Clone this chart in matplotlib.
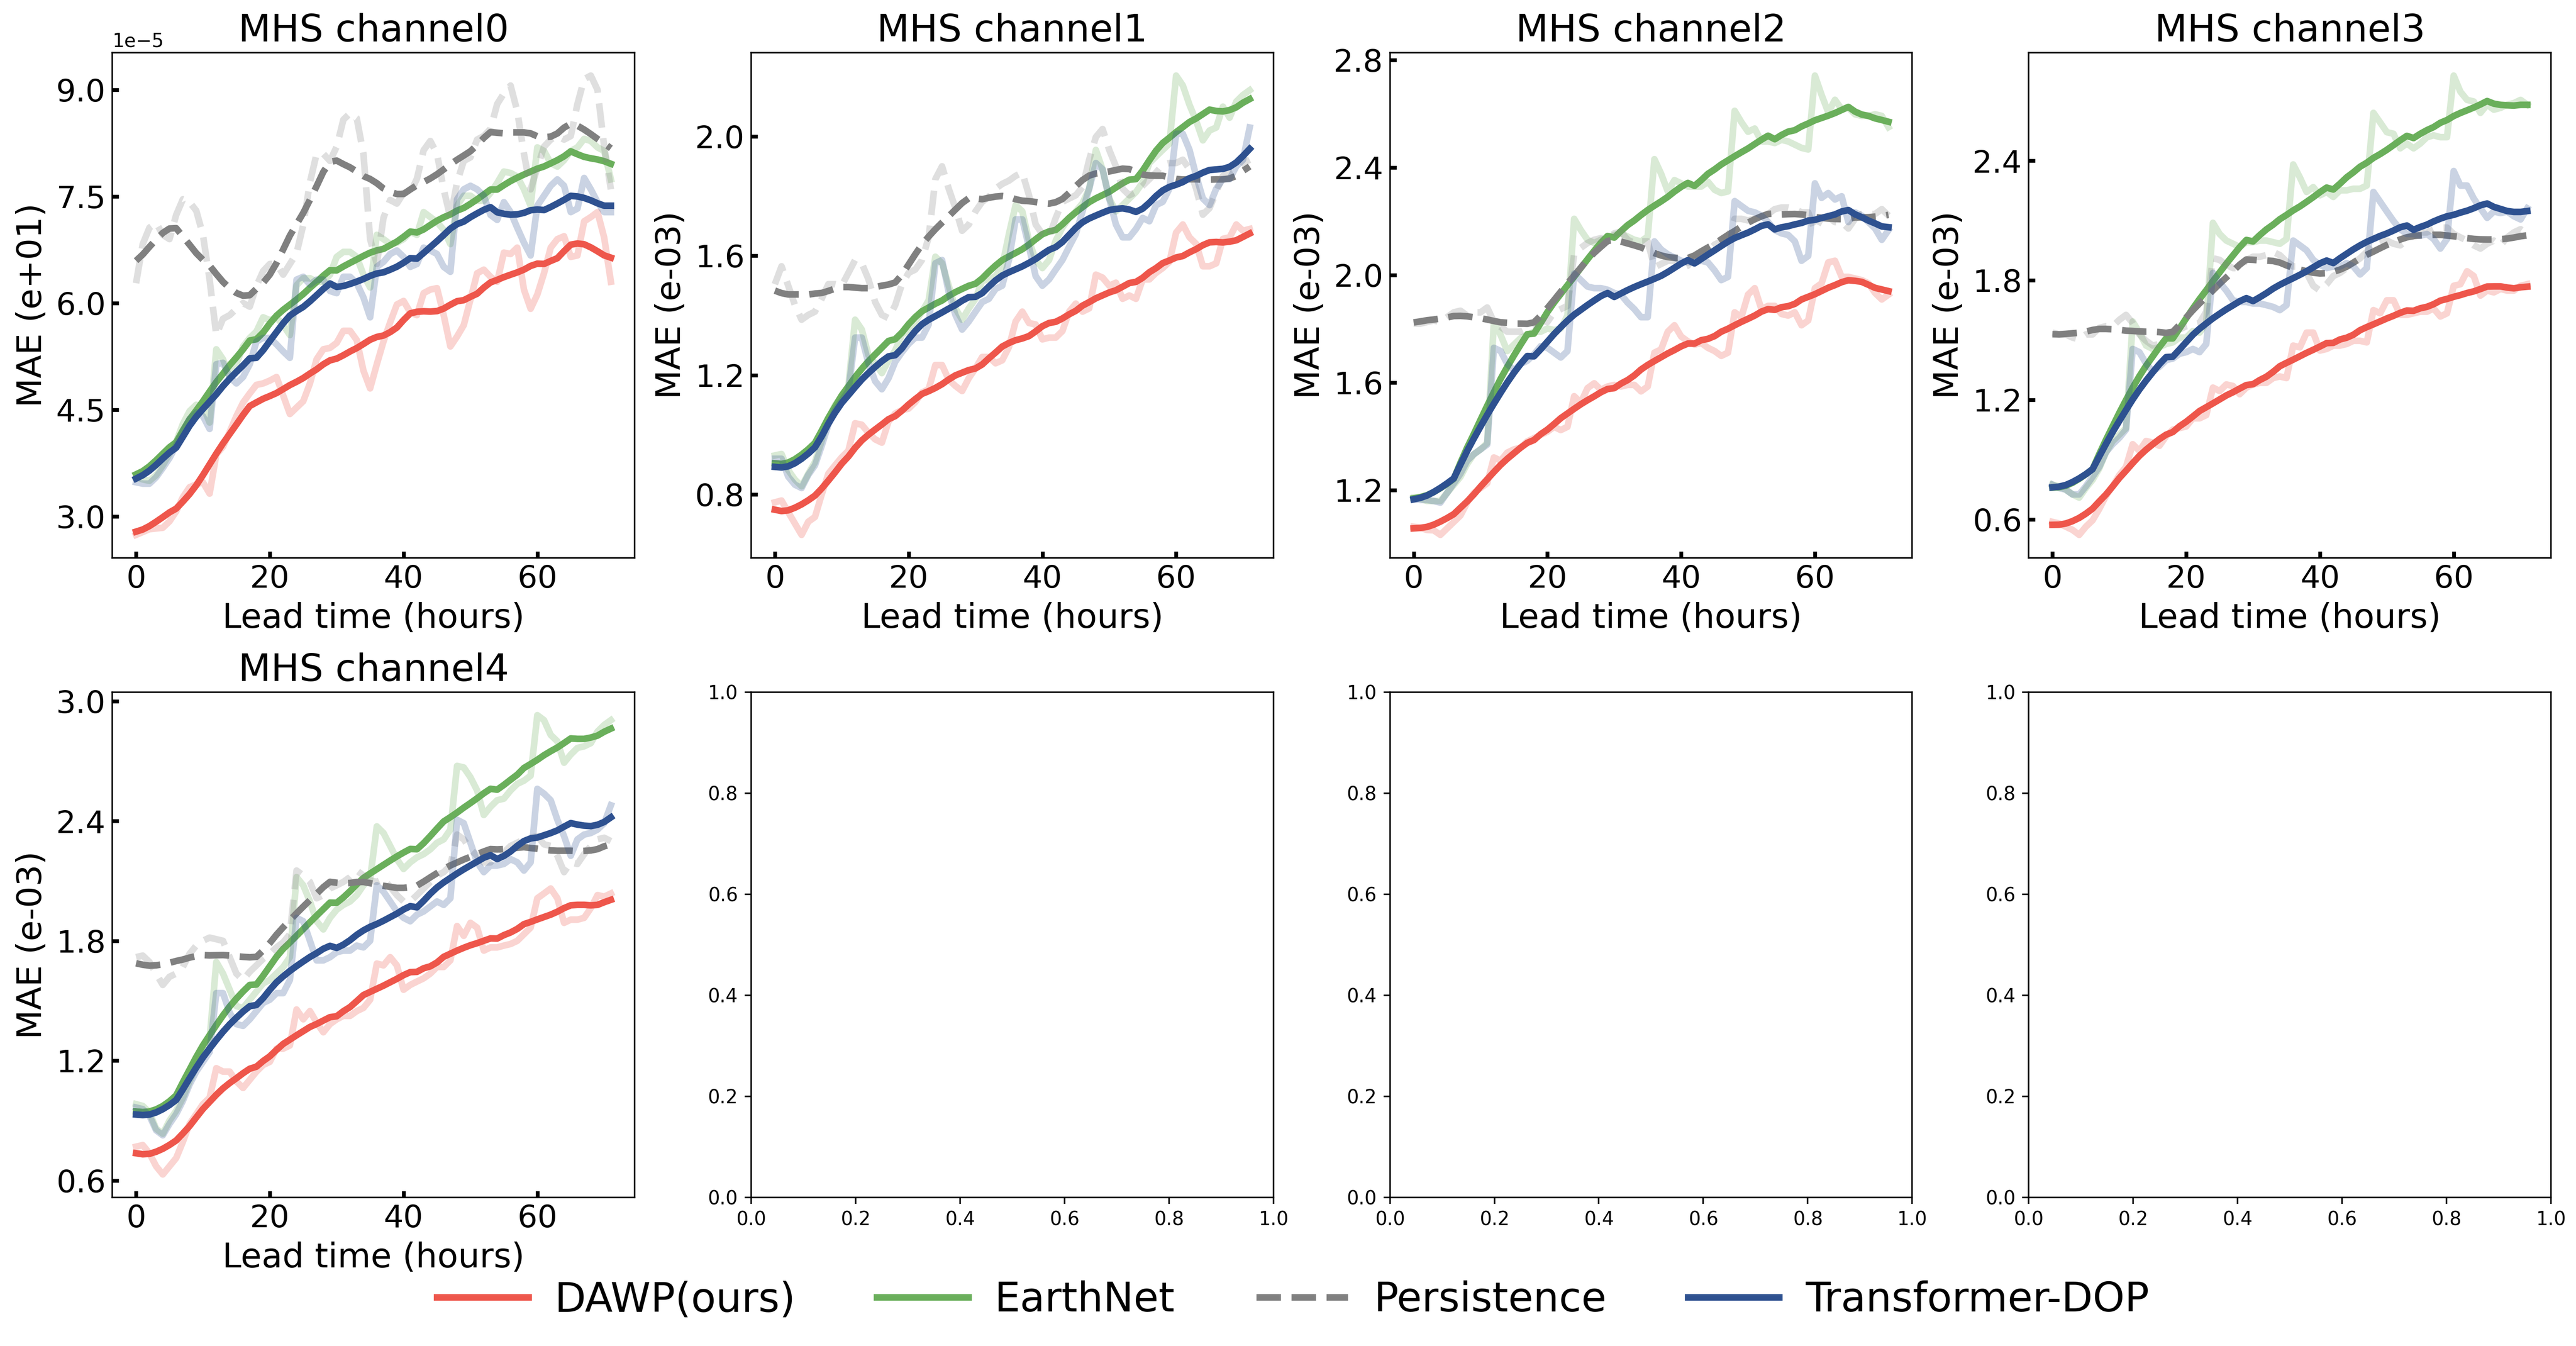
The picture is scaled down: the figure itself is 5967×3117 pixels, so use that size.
import numpy as np
import matplotlib
matplotlib.use("Agg")
from matplotlib import pyplot as plt

hours = np.arange(72)

models = ["DAWP(ours)", "EarthNet", "Persistence", "Transformer-DOP"]
colors = ["#EE564B", "#6AAF5B", "#808080", "#2E5190"]
styles = ["-", "-", "--", "-"]

titles = ["MHS channel0", "MHS channel1", "MHS channel2", "MHS channel3", "MHS channel4"]
ylabels = ["MAE (e+01)", "MAE (e-03)", "MAE (e-03)", "MAE (e-03)", "MAE (e-03)"]
scales = [1e-5, 1, 1, 1, 1]
yticks = [[3.0, 4.5, 6.0, 7.5, 9.0],
          [0.8, 1.2, 1.6, 2.0],
          [1.2, 1.6, 2.0, 2.4, 2.8],
          [0.6, 1.2, 1.8, 2.4],
          [0.6, 1.2, 1.8, 2.4, 3.0]]

# channel 0 (values in units of 1e-5)
ch0_dawp = [2.74, 2.78, 2.82, 2.83, 2.84, 2.93, 3.07, 3.27, 3.41, 3.45, 3.48, 3.32,
            3.87, 3.98, 4.19, 4.41, 4.60, 4.73, 4.85, 4.87, 4.91, 4.96, 4.70, 4.44,
            4.53, 4.62, 4.87, 5.21, 5.35, 5.37, 5.44, 5.61, 5.61, 5.48, 5.05, 4.80,
            5.14, 5.46, 5.73, 5.98, 6.03, 5.87, 5.83, 6.14, 6.19, 6.21, 5.83, 5.39,
            5.53, 5.69, 6.05, 6.42, 6.47, 6.37, 6.30, 6.71, 6.69, 6.78, 6.19, 5.92,
            6.12, 6.42, 6.78, 6.90, 6.94, 6.65, 6.67, 7.15, 7.21, 7.28, 6.92, 6.30]
ch0_earthnet = [3.55, 3.52, 3.50, 3.58, 3.72, 3.88, 4.05, 4.30, 4.48, 4.57, 4.55, 4.32,
                5.35, 5.21, 4.96, 5.14, 5.39, 5.51, 5.60, 5.80, 5.76, 5.80, 5.69, 5.55,
                6.25, 6.35, 6.35, 6.30, 6.30, 6.40, 6.65, 6.72, 6.72, 6.65, 6.40, 6.22,
                6.96, 6.90, 6.83, 6.85, 6.90, 7.00, 6.96, 7.28, 7.21, 7.14, 7.03, 6.83,
                7.37, 7.51, 7.51, 7.44, 7.44, 7.55, 7.69, 7.85, 7.83, 7.78, 7.60, 7.37,
                8.19, 8.14, 7.97, 7.92, 8.01, 8.14, 8.19, 8.31, 8.28, 8.19, 8.14, 7.74]
ch0_persistence = [6.28, 6.83, 7.06, 7.13, 6.96, 6.90, 7.24, 7.46, 7.42, 7.30, 6.96, 6.33,
                   5.55, 5.78, 5.83, 5.92, 6.00, 5.95, 6.24, 6.45, 6.55, 6.55, 6.40, 6.55,
                   6.70, 7.10, 7.70, 8.10, 8.10, 8.00, 8.20, 8.58, 8.67, 8.60, 8.10, 6.90,
                   6.55, 7.20, 7.45, 7.40, 7.55, 7.55, 7.75, 8.15, 8.28, 8.10, 7.60, 7.20,
                   7.70, 8.00, 8.05, 8.30, 8.35, 8.45, 8.80, 8.95, 9.06, 8.70, 8.10, 7.60,
                   7.90, 8.20, 8.30, 8.35, 8.30, 8.35, 8.80, 9.15, 9.20, 9.00, 8.20, 7.60]
ch0_transformer = [3.48, 3.46, 3.46, 3.55, 3.68, 3.82, 4.00, 4.19, 4.37, 4.46, 4.41, 4.23,
                   5.14, 5.16, 4.96, 4.87, 4.96, 5.14, 5.46, 5.51, 5.51, 5.42, 5.32, 5.23,
                   6.33, 6.37, 6.26, 6.33, 6.33, 6.17, 6.14, 6.37, 6.37, 6.28, 6.08, 5.80,
                   6.51, 6.58, 6.69, 6.74, 6.65, 6.51, 6.55, 6.78, 6.74, 6.69, 6.51, 6.44,
                   7.46, 7.60, 7.65, 7.60, 7.51, 7.24, 7.17, 7.42, 7.28, 7.06, 6.85, 6.67,
                   7.37, 7.51, 7.65, 7.74, 7.65, 7.28, 7.33, 7.76, 7.60, 7.42, 7.28, 7.28]

# channel 1
ch1_dawp = [0.774, 0.780, 0.741, 0.703, 0.665, 0.709, 0.725, 0.800, 0.870, 0.898, 0.925, 0.947,
            1.039, 1.034, 1.007, 0.985, 0.974, 1.045, 1.072, 1.083, 1.088, 1.110, 1.142, 1.153,
            1.234, 1.234, 1.185, 1.164, 1.147, 1.190, 1.223, 1.261, 1.261, 1.240, 1.250, 1.294,
            1.380, 1.413, 1.375, 1.370, 1.320, 1.326, 1.326, 1.348, 1.413, 1.440, 1.413, 1.424,
            1.537, 1.527, 1.500, 1.510, 1.456, 1.467, 1.456, 1.521, 1.521, 1.543, 1.559, 1.580,
            1.678, 1.705, 1.662, 1.640, 1.565, 1.565, 1.575, 1.657, 1.662, 1.705, 1.684, 1.690]
ch1_earthnet = [0.931, 0.936, 0.882, 0.850, 0.828, 0.870, 0.909, 0.980, 1.055, 1.100, 1.131, 1.164,
                1.386, 1.353, 1.267, 1.240, 1.207, 1.250, 1.283, 1.337, 1.348, 1.380, 1.413, 1.451,
                1.597, 1.575, 1.500, 1.424, 1.386, 1.424, 1.456, 1.516, 1.521, 1.532, 1.565, 1.673,
                1.770, 1.749, 1.651, 1.586, 1.559, 1.586, 1.651, 1.695, 1.727, 1.749, 1.776, 1.825,
                1.955, 1.890, 1.792, 1.749, 1.770, 1.792, 1.814, 1.846, 1.911, 1.933, 1.955, 1.976,
                2.204, 2.171, 2.106, 2.052, 1.987, 2.020, 2.030, 2.100, 2.063, 2.117, 2.139, 2.155]
ch1_persistence = [1.505, 1.565, 1.500, 1.435, 1.386, 1.402, 1.413, 1.456, 1.505, 1.505, 1.500, 1.543,
                   1.586, 1.575, 1.521, 1.445, 1.402, 1.391, 1.435, 1.505, 1.543, 1.554, 1.586, 1.662,
                   1.857, 1.900, 1.825, 1.760, 1.684, 1.705, 1.749, 1.781, 1.797, 1.825, 1.841, 1.852,
                   1.868, 1.879, 1.803, 1.705, 1.673, 1.662, 1.727, 1.781, 1.792, 1.803, 1.830, 1.922,
                   1.998, 2.025, 1.955, 1.900, 1.825, 1.803, 1.814, 1.835, 1.857, 1.879, 1.906, 1.911,
                   1.911, 1.922, 1.890, 1.825, 1.738, 1.760, 1.814, 1.868, 1.879, 1.890, 1.911, 1.922]
ch1_transformer = [0.920, 0.920, 0.860, 0.833, 0.822, 0.866, 0.898, 0.963, 1.034, 1.083, 1.115, 1.148,
                   1.326, 1.326, 1.240, 1.180, 1.153, 1.190, 1.245, 1.277, 1.305, 1.326, 1.326, 1.370,
                   1.575, 1.586, 1.478, 1.402, 1.353, 1.380, 1.413, 1.445, 1.456, 1.489, 1.500, 1.586,
                   1.722, 1.722, 1.630, 1.532, 1.500, 1.521, 1.554, 1.586, 1.630, 1.673, 1.749, 1.825,
                   1.911, 1.890, 1.792, 1.705, 1.662, 1.662, 1.690, 1.727, 1.716, 1.770, 1.781, 1.825,
                   2.009, 2.009, 1.955, 1.868, 1.792, 1.770, 1.825, 1.857, 1.857, 1.900, 1.922, 2.030]

# channel 2
ch2_dawp = [1.063, 1.060, 1.051, 1.050, 1.033, 1.057, 1.081, 1.105, 1.153, 1.189, 1.207, 1.225,
            1.321, 1.309, 1.339, 1.351, 1.357, 1.381, 1.393, 1.405, 1.417, 1.435, 1.423, 1.435,
            1.549, 1.525, 1.579, 1.597, 1.573, 1.585, 1.591, 1.585, 1.591, 1.591, 1.567, 1.585,
            1.711, 1.723, 1.789, 1.813, 1.771, 1.753, 1.741, 1.747, 1.729, 1.717, 1.699, 1.711,
            1.861, 1.843, 1.927, 1.951, 1.873, 1.885, 1.885, 1.855, 1.849, 1.861, 1.813, 1.831,
            1.951, 1.969, 2.047, 2.053, 1.993, 1.993, 1.987, 1.981, 1.969, 1.933, 1.909, 1.927]
ch2_earthnet = [1.171, 1.168, 1.159, 1.159, 1.159, 1.189, 1.219, 1.249, 1.297, 1.333, 1.351, 1.375,
                1.825, 1.777, 1.717, 1.741, 1.765, 1.777, 1.789, 1.789, 1.801, 1.795, 1.801, 1.849,
                2.209, 2.167, 2.131, 2.119, 2.131, 2.137, 2.149, 2.155, 2.143, 2.131, 2.125, 2.143,
                2.431, 2.377, 2.311, 2.353, 2.341, 2.329, 2.329, 2.329, 2.347, 2.317, 2.305, 2.311,
                2.611, 2.569, 2.533, 2.545, 2.497, 2.497, 2.491, 2.503, 2.497, 2.485, 2.473, 2.467,
                2.742, 2.670, 2.605, 2.652, 2.617, 2.622, 2.598, 2.592, 2.592, 2.598, 2.592, 2.550]
ch2_persistence = [1.819, 1.819, 1.825, 1.831, 1.825, 1.843, 1.861, 1.867, 1.849, 1.861, 1.861, 1.879,
                   1.825, 1.807, 1.789, 1.789, 1.789, 1.801, 1.813, 1.831, 1.825, 1.861, 1.873, 1.885,
                   2.077, 2.101, 2.119, 2.131, 2.137, 2.137, 2.155, 2.161, 2.131, 2.119, 2.125, 2.125,
                   2.029, 2.041, 2.053, 2.053, 2.023, 2.035, 2.065, 2.065, 2.089, 2.113, 2.125, 2.137,
                   2.209, 2.209, 2.203, 2.209, 2.215, 2.227, 2.245, 2.251, 2.251, 2.245, 2.233, 2.233,
                   2.167, 2.215, 2.215, 2.197, 2.197, 2.173, 2.209, 2.227, 2.227, 2.227, 2.245, 2.221]
ch2_transformer = [1.165, 1.163, 1.163, 1.159, 1.153, 1.189, 1.225, 1.261, 1.309, 1.333, 1.351, 1.369,
                   1.729, 1.717, 1.669, 1.645, 1.669, 1.681, 1.705, 1.735, 1.729, 1.711, 1.693, 1.717,
                   2.005, 1.981, 1.957, 1.951, 1.951, 1.945, 1.933, 1.927, 1.897, 1.873, 1.843, 1.843,
                   2.125, 2.095, 2.077, 2.065, 2.053, 2.047, 2.047, 2.053, 2.047, 2.017, 1.981, 1.993,
                   2.275, 2.257, 2.239, 2.233, 2.221, 2.197, 2.167, 2.155, 2.149, 2.125, 2.053, 2.071,
                   2.341, 2.287, 2.305, 2.281, 2.293, 2.197, 2.233, 2.221, 2.197, 2.173, 2.131, 2.167]

# channel 3
ch3_dawp = [0.587, 0.579, 0.563, 0.547, 0.522, 0.563, 0.595, 0.652, 0.717, 0.766, 0.822, 0.863,
            0.977, 0.944, 0.993, 0.985, 0.969, 1.017, 1.050, 1.058, 1.066, 1.107, 1.107, 1.123,
            1.261, 1.244, 1.277, 1.269, 1.228, 1.261, 1.277, 1.285, 1.285, 1.309, 1.317, 1.309,
            1.472, 1.463, 1.537, 1.537, 1.447, 1.455, 1.472, 1.472, 1.480, 1.496, 1.496, 1.488,
            1.650, 1.634, 1.699, 1.699, 1.626, 1.626, 1.634, 1.642, 1.642, 1.658, 1.618, 1.634,
            1.772, 1.780, 1.845, 1.821, 1.723, 1.748, 1.739, 1.756, 1.748, 1.748, 1.772, 1.780]
ch3_earthnet = [0.774, 0.766, 0.749, 0.725, 0.709, 0.757, 0.798, 0.855, 0.936, 0.993, 1.025, 1.058,
                1.593, 1.537, 1.472, 1.455, 1.464, 1.480, 1.488, 1.512, 1.512, 1.545, 1.537, 1.585,
                2.088, 2.032, 1.999, 1.983, 1.967, 1.991, 1.991, 1.999, 1.999, 1.991, 1.983, 2.007,
                2.381, 2.316, 2.243, 2.267, 2.226, 2.243, 2.218, 2.251, 2.251, 2.259, 2.259, 2.275,
                2.640, 2.592, 2.543, 2.535, 2.462, 2.486, 2.462, 2.486, 2.518, 2.527, 2.518, 2.518,
                2.827, 2.746, 2.705, 2.697, 2.640, 2.681, 2.656, 2.665, 2.681, 2.689, 2.705, 2.681]
ch3_persistence = [1.537, 1.528, 1.528, 1.512, 1.504, 1.528, 1.528, 1.561, 1.569, 1.569, 1.601, 1.626,
                   1.585, 1.528, 1.496, 1.472, 1.480, 1.512, 1.537, 1.553, 1.569, 1.577, 1.585, 1.642,
                   1.910, 1.902, 1.877, 1.861, 1.861, 1.902, 1.918, 1.918, 1.926, 1.942, 1.926, 1.894,
                   1.869, 1.869, 1.837, 1.772, 1.748, 1.780, 1.821, 1.837, 1.861, 1.886, 1.910, 1.942,
                   1.991, 1.999, 1.999, 1.983, 1.975, 1.999, 2.023, 2.040, 2.040, 2.056, 2.064, 2.064,
                   2.032, 2.015, 1.999, 1.975, 1.959, 1.983, 1.999, 1.975, 2.015, 2.040, 2.056, 2.032]
ch3_transformer = [0.774, 0.757, 0.749, 0.725, 0.725, 0.766, 0.814, 0.863, 0.936, 0.977, 1.009, 1.050,
                   1.455, 1.439, 1.382, 1.342, 1.366, 1.399, 1.407, 1.431, 1.439, 1.455, 1.439, 1.480,
                   1.837, 1.788, 1.748, 1.699, 1.691, 1.691, 1.683, 1.683, 1.675, 1.666, 1.650, 1.675,
                   1.999, 1.975, 1.950, 1.902, 1.877, 1.861, 1.869, 1.869, 1.886, 1.869, 1.829, 1.861,
                   2.243, 2.194, 2.145, 2.097, 2.056, 2.032, 2.032, 2.023, 2.032, 2.007, 1.959, 2.007,
                   2.348, 2.275, 2.275, 2.210, 2.161, 2.113, 2.145, 2.137, 2.145, 2.121, 2.105, 2.161]

# channel 4
ch4_dawp = [0.769, 0.777, 0.736, 0.671, 0.630, 0.671, 0.712, 0.793, 0.883, 0.932, 0.982, 1.014,
            1.162, 1.145, 1.145, 1.096, 1.063, 1.104, 1.145, 1.178, 1.194, 1.260, 1.260, 1.276,
            1.456, 1.407, 1.448, 1.391, 1.342, 1.383, 1.407, 1.424, 1.424, 1.448, 1.464, 1.505,
            1.686, 1.677, 1.718, 1.677, 1.555, 1.579, 1.596, 1.612, 1.636, 1.669, 1.669, 1.702,
            1.874, 1.825, 1.890, 1.866, 1.751, 1.767, 1.767, 1.776, 1.784, 1.800, 1.833, 1.866,
            2.013, 2.037, 2.062, 2.013, 1.890, 1.906, 1.906, 1.915, 1.964, 2.029, 2.021, 2.037]
ch4_earthnet = [0.982, 0.973, 0.941, 0.859, 0.834, 0.900, 0.949, 1.014, 1.096, 1.170, 1.243, 1.309,
                1.694, 1.636, 1.555, 1.473, 1.464, 1.505, 1.546, 1.587, 1.604, 1.636, 1.669, 1.718,
                2.119, 2.078, 1.997, 1.898, 1.857, 1.915, 1.956, 1.980, 1.997, 2.029, 2.078, 2.111,
                2.373, 2.340, 2.275, 2.209, 2.160, 2.193, 2.218, 2.234, 2.258, 2.291, 2.308, 2.357,
                2.676, 2.668, 2.619, 2.553, 2.430, 2.471, 2.504, 2.512, 2.553, 2.586, 2.602, 2.627,
                2.930, 2.905, 2.831, 2.799, 2.692, 2.733, 2.766, 2.774, 2.790, 2.848, 2.881, 2.905]
ch4_persistence = [1.718, 1.726, 1.694, 1.636, 1.579, 1.620, 1.636, 1.669, 1.735, 1.776, 1.800, 1.816,
                   1.808, 1.800, 1.718, 1.636, 1.604, 1.645, 1.677, 1.710, 1.735, 1.767, 1.792, 1.833,
                   2.152, 2.127, 2.095, 2.013, 2.029, 2.062, 2.078, 2.095, 2.119, 2.152, 2.127, 2.103,
                   2.095, 2.111, 2.070, 2.029, 1.997, 1.997, 2.029, 2.062, 2.095, 2.127, 2.144, 2.177,
                   2.332, 2.308, 2.258, 2.226, 2.193, 2.193, 2.226, 2.242, 2.275, 2.291, 2.308, 2.316,
                   2.324, 2.283, 2.275, 2.226, 2.144, 2.193, 2.185, 2.234, 2.275, 2.308, 2.316, 2.299]
ch4_transformer = [0.965, 0.957, 0.924, 0.851, 0.826, 0.883, 0.932, 0.998, 1.080, 1.145, 1.194, 1.243,
                   1.538, 1.538, 1.440, 1.383, 1.374, 1.407, 1.448, 1.489, 1.505, 1.538, 1.538, 1.604,
                   1.915, 1.898, 1.800, 1.702, 1.702, 1.718, 1.743, 1.751, 1.751, 1.776, 1.767, 1.800,
                   2.078, 2.046, 1.997, 1.947, 1.915, 1.898, 1.931, 1.947, 1.972, 1.997, 1.980, 2.013,
                   2.406, 2.389, 2.291, 2.193, 2.144, 2.177, 2.177, 2.185, 2.209, 2.193, 2.152, 2.193,
                   2.561, 2.537, 2.504, 2.406, 2.324, 2.226, 2.308, 2.332, 2.340, 2.357, 2.389, 2.479]

channels = [
    [ch0_dawp, ch0_earthnet, ch0_persistence, ch0_transformer],
    [ch1_dawp, ch1_earthnet, ch1_persistence, ch1_transformer],
    [ch2_dawp, ch2_earthnet, ch2_persistence, ch2_transformer],
    [ch3_dawp, ch3_earthnet, ch3_persistence, ch3_transformer],
    [ch4_dawp, ch4_earthnet, ch4_persistence, ch4_transformer],
]


def smooth(values, half=5):
    # centred moving average, edges padded with the end values
    padded = np.pad(np.asarray(values, dtype=float), half, mode="edge")
    kernel = np.ones(2 * half + 1) / (2 * half + 1)
    return np.convolve(padded, kernel, mode="valid")


fig, axes = plt.subplots(2, 4, figsize=(5967 / 315, 3117 / 315), dpi=315)
fig.subplots_adjust(left=0.0436, right=0.9903, bottom=0.1104, top=0.9609,
                    wspace=0.223, hspace=0.266)

handles = []
for i, ax in enumerate(axes.flat[:5]):
    for name, values, color, style in zip(models, channels[i], colors, styles):
        raw = np.asarray(values) * scales[i]
        ax.plot(hours, raw, color=color, linestyle=style, linewidth=3.5, alpha=0.25)
        line, = ax.plot(hours, smooth(raw), color=color, linestyle=style,
                        linewidth=3.5, label=name)
        if i == 0:
            handles.append(line)
    ax.set_title(titles[i], fontsize=20)
    ax.set_xlabel("Lead time (hours)", fontsize=18)
    ax.set_ylabel(ylabels[i], fontsize=18)
    ax.set_yticks(np.asarray(yticks[i]) * scales[i])
    ax.tick_params(direction="in", width=2, labelsize=16.5)

fig.legend(handles, models, loc="center", bbox_to_anchor=(0.502, 0.034), ncol=4,
           frameon=False, fontsize=21.5, handlelength=2.25, handletextpad=0.65)

fig.savefig("out.png", dpi=315)
